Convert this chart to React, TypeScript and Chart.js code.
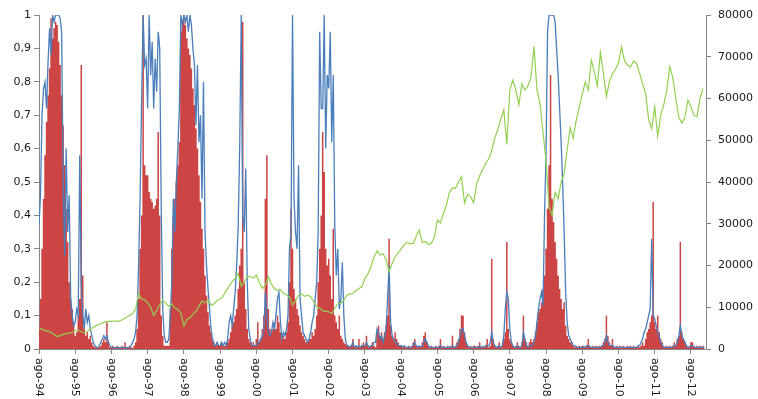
import React, { useEffect, useRef } from 'react';
import { Chart, registerables } from 'chart.js';

Chart.register(...registerables);

// x-axis year labels (one every 12 months, starting Aug 1994)
const yearLabels = ['ago-94', 'ago-95', 'ago-96', 'ago-97', 'ago-98', 'ago-99', 'ago-00', 'ago-01', 'ago-02', 'ago-03', 'ago-04', 'ago-05', 'ago-06', 'ago-07', 'ago-08', 'ago-09', 'ago-10', 'ago-11', 'ago-12'];
const leftTickLabels = ['0', '0,1', '0,2', '0,3', '0,4', '0,5', '0,6', '0,7', '0,8', '0,9', '1'];
const rightTickLabels = ['0', '10000', '20000', '30000', '40000', '50000', '60000', '70000', '80000'];

// half-month samples (left axis)
const redValues = [
  0.07,0.15,0.3,0.45,0.58,0.68,0.76,0.84,0.99,0.93,0.96,0.98,0.97,0.92,0.85,0.76,0.67,0.55,0.42,0.32,0.2,0.15,0.12,0.08,
  0.04,0.05,0.1,0.15,0.85,0.22,0.06,0.04,0.05,0.03,0.04,0.02,0.01,0.005,0.005,0.003,0.005,0.01,0.02,0.03,0.02,0.08,0.02,0.005,
  0.005,0.01,0.005,0.003,0.01,0.005,0.003,0.01,0.005,0.02,0.005,0.003,0.01,0.005,0.003,0.01,0.02,0.06,0.15,0.3,0.4,1.0,0.55,0.52,
  0.52,0.47,0.45,0.44,0.42,0.43,0.45,0.65,0.4,0.1,0.04,0.01,0.01,0.01,0.01,0.12,0.3,0.4,0.45,0.5,0.55,0.62,0.95,0.98,
  1.0,0.97,0.93,0.9,0.88,0.84,0.78,0.73,0.66,0.6,0.52,0.44,0.36,0.3,0.22,0.16,0.11,0.07,0.05,0.03,0.02,0.01,0.02,0.01,
  0.01,0.02,0.01,0.01,0.01,0.02,0.03,0.05,0.07,0.08,0.1,0.12,0.18,0.25,0.3,0.98,0.2,0.12,0.06,0.03,0.02,0.01,0.02,0.01,
  0.03,0.08,0.02,0.03,0.06,0.1,0.45,0.58,0.12,0.06,0.05,0.06,0.08,0.06,0.1,0.08,0.05,0.03,0.04,0.03,0.05,0.08,0.2,0.42,
  0.3,0.18,0.15,0.12,0.1,0.07,0.05,0.04,0.03,0.02,0.02,0.03,0.03,0.05,0.04,0.06,0.1,0.2,0.3,0.4,0.65,0.53,0.3,0.25,
  0.27,0.22,0.15,0.36,0.1,0.08,0.06,0.1,0.04,0.03,0.02,0.015,0.01,0.01,0.005,0.01,0.03,0.005,0.01,0.005,0.03,0.005,0.01,0.02,
  0.01,0.04,0.01,0.005,0.01,0.02,0.01,0.005,0.05,0.07,0.04,0.05,0.03,0.05,0.07,0.1,0.33,0.07,0.04,0.03,0.05,0.03,0.02,0.01,
  0.01,0.005,0.01,0.005,0.003,0.01,0.005,0.01,0.02,0.03,0.01,0.005,0.01,0.005,0.02,0.04,0.05,0.02,0.01,0.005,0.01,0.005,0.003,0.01,
  0.005,0.01,0.03,0.005,0.01,0.005,0.003,0.01,0.005,0.01,0.04,0.005,0.01,0.02,0.03,0.06,0.1,0.1,0.05,0.02,0.01,0.005,0.01,0.005,
  0.01,0.01,0.005,0.01,0.02,0.005,0.01,0.005,0.01,0.03,0.005,0.01,0.27,0.03,0.01,0.005,0.01,0.02,0.005,0.01,0.03,0.05,0.32,0.06,0.03,
  0.02,0.01,0.005,0.01,0.02,0.01,0.005,0.02,0.1,0.03,0.02,0.01,0.02,0.03,0.02,0.03,0.05,0.08,0.11,0.12,0.14,0.18,0.22,0.3,
  0.42,0.55,0.82,0.45,0.38,0.32,0.27,0.22,0.18,0.15,0.12,0.14,0.07,0.04,0.03,0.02,0.02,0.01,0.005,0.01,0.005,0.01,0.005,0.01,
  0.01,0.005,0.01,0.03,0.01,0.005,0.01,0.005,0.01,0.005,0.01,0.005,0.01,0.02,0.03,0.1,0.04,0.02,0.01,0.03,0.01,0.005,0.01,0.005,
  0.01,0.005,0.01,0.005,0.003,0.01,0.005,0.01,0.005,0.01,0.005,0.003,0.01,0.005,0.01,0.02,0.01,0.03,0.05,0.06,0.08,0.1,0.44,0.08,
  0.06,0.1,0.05,0.03,0.02,0.01,0.005,0.01,0.005,0.01,0.005,0.01,0.02,0.01,0.03,0.04,0.32,0.05,0.03,0.02,0.01,0.005,0.01,0.02,
  0.02,0.01,0.005,0.01,0.005,0.01,0.005,0.01,0.005,
];

const blueValues = [
  0.37,0.46,0.7,0.78,0.8,0.72,0.86,0.96,0.88,1.0,0.98,1.0,1.0,1.0,0.99,0.95,0.5,0.28,0.6,0.35,0.46,0.15,0.1,0.07,
  0.08,0.12,0.1,0.58,0.2,0.1,0.06,0.12,0.08,0.1,0.06,0.04,0.02,0.01,0.005,0.005,0.01,0.02,0.03,0.04,0.03,0.04,0.02,0.01,
  0.005,0.005,0.003,0.005,0.004,0.003,0.005,0.004,0.005,0.003,0.005,0.004,0.005,0.01,0.02,0.03,0.05,0.1,0.25,0.45,0.75,1.0,0.85,0.87,
  0.72,1.0,0.82,0.92,0.72,0.87,0.77,0.95,0.9,0.42,0.12,0.04,0.02,0.02,0.03,0.1,0.2,0.45,0.35,0.5,0.6,0.72,1.0,0.97,
  1.0,0.98,1.0,0.95,1.0,0.97,0.9,0.85,0.67,0.85,0.62,0.7,0.45,0.8,0.35,0.25,0.18,0.12,0.06,0.03,0.01,0.01,0.02,0.01,
  0.01,0.02,0.01,0.02,0.01,0.03,0.08,0.1,0.07,0.12,0.17,0.25,0.37,0.6,1.0,0.4,0.35,0.54,0.2,0.06,0.03,0.01,0.01,0.01,
  0.01,0.02,0.02,0.03,0.04,0.05,0.17,0.1,0.05,0.04,0.05,0.08,0.06,0.1,0.15,0.17,0.08,0.03,0.05,0.04,0.06,0.1,0.3,0.35,
  1.0,0.45,0.35,0.3,0.55,0.15,0.1,0.05,0.04,0.03,0.02,0.03,0.05,0.08,0.1,0.15,0.2,0.35,0.95,0.72,0.72,1.0,0.6,0.82,
  0.78,0.95,0.62,0.82,0.37,0.22,0.3,0.12,0.15,0.26,0.1,0.03,0.01,0.01,0.005,0.01,0.02,0.005,0.01,0.005,0.01,0.005,0.01,0.01,
  0.01,0.02,0.01,0.005,0.01,0.01,0.02,0.02,0.06,0.05,0.03,0.04,0.02,0.04,0.06,0.15,0.25,0.08,0.04,0.03,0.02,0.02,0.01,0.01,
  0.01,0.005,0.01,0.005,0.005,0.005,0.005,0.005,0.01,0.02,0.01,0.005,0.01,0.005,0.01,0.02,0.03,0.02,0.01,0.005,0.005,0.005,0.005,0.005,
  0.005,0.005,0.01,0.005,0.005,0.005,0.005,0.005,0.005,0.005,0.01,0.005,0.005,0.01,0.02,0.04,0.06,0.06,0.04,0.02,0.01,0.005,0.005,0.005,
  0.005,0.005,0.005,0.005,0.01,0.005,0.005,0.005,0.01,0.01,0.01,0.02,0.05,0.02,0.01,0.005,0.005,0.01,0.005,0.01,0.04,0.12,0.17,0.15,0.06,
  0.02,0.01,0.005,0.005,0.01,0.005,0.005,0.01,0.05,0.03,0.01,0.005,0.01,0.01,0.01,0.02,0.04,0.08,0.12,0.15,0.17,0.13,0.4,0.58,
  0.95,1.0,1.0,1.0,1.0,0.98,0.9,0.82,0.72,0.62,0.5,0.35,0.17,0.08,0.04,0.03,0.02,0.01,0.01,0.005,0.005,0.005,0.005,0.005,
  0.005,0.005,0.01,0.01,0.005,0.005,0.005,0.005,0.005,0.005,0.005,0.005,0.01,0.01,0.02,0.04,0.02,0.01,0.01,0.01,0.005,0.005,0.005,0.005,
  0.005,0.005,0.005,0.005,0.005,0.005,0.005,0.005,0.005,0.005,0.005,0.005,0.01,0.01,0.02,0.03,0.05,0.06,0.08,0.1,0.12,0.33,0.1,0.09,
  0.07,0.05,0.04,0.02,0.01,0.005,0.005,0.005,0.005,0.005,0.005,0.005,0.01,0.01,0.02,0.04,0.07,0.04,0.03,0.02,0.01,0.005,0.005,0.01,
  0.01,0.005,0.005,0.005,0.005,0.005,0.005,0.005,0.005,
];

// monthly samples (right axis)
const greenValues = [
  5000,4700,4400,4300,4000,3500,3000,3200,3500,3700,3800,4000,
  4300,4600,4200,3900,4200,4800,5200,5600,6000,6200,6500,6600,
  6600,6700,6600,6800,7200,7600,8000,8500,9500,13300,12000,11800,
  11000,10000,8000,9300,10600,11700,11000,10200,10800,9800,9500,8600,
  5500,7000,7500,8300,9000,10200,11500,11000,11800,10500,10800,11600,
  12000,12600,14000,15000,16100,17000,18100,15000,16000,17400,17300,17000,
  17700,16000,14500,15200,17300,15500,14500,14000,14200,13300,13000,12500,
  10500,11600,12900,13200,12600,12900,12500,11300,10100,9800,9200,9000,
  8900,8500,9700,10900,10900,11700,12900,13200,13300,14000,14500,14900,
  16900,18000,19700,22000,23500,22500,22800,21500,18500,20500,22100,23000,
  24000,25000,25600,25200,25300,27000,28500,25500,25800,25000,25300,26800,
  30900,30200,32500,34500,37500,38600,38500,40000,41300,35000,37000,36500,
  35000,39500,41500,43000,44500,45500,47500,50500,52500,55000,57300,49000,
  62000,64400,62000,58500,63500,62000,63000,65000,72500,62000,58800,52000,
  45000,34000,32000,37500,36000,40000,42000,47700,53000,50500,54800,58000,
  61000,64000,62000,69200,66500,63000,71000,66000,60500,64000,66000,67000,
  68500,72400,69000,68000,67500,69000,68400,66000,63500,61200,55000,52800,
  58000,51000,56000,58500,62000,67600,65000,60000,55500,54100,55500,59600,
  58000,56000,55600,60000,62400,
];

const HALF_MONTH = 0.5;
const MONTHS_PER_YEAR = 12;
const FONT = 'DejaVu Sans';
const AXIS_COLOR = '#868686';

const xLabelPlugin = {
  id: 'xLabels',
  afterDraw(chart: any) {
    const xs = chart.scales.x;
    const ctx = chart.ctx;
    ctx.save();
    ctx.font = `11px "${FONT}"`;
    ctx.fillStyle = '#1a1a1a';
    ctx.textAlign = 'left';
    ctx.textBaseline = 'middle';
    yearLabels.forEach((lab, i) => {
      const px = xs.getPixelForValue(i * MONTHS_PER_YEAR);
      ctx.save();
      ctx.translate(px, xs.top + 9);
      ctx.rotate(Math.PI / 2);
      ctx.fillText(lab, 0, 0);
      ctx.restore();
    });
    ctx.restore();
  },
};

export default function App() {
  const ref = useRef<HTMLCanvasElement | null>(null);
  useEffect(() => {
    document.body.style.margin = '0';
    if (!ref.current) return;
    const chart = new Chart(ref.current, {
      type: 'line',
      data: {
        datasets: [
          {
            type: 'line',
            data: greenValues.map((v, i) => ({ x: i, y: v })),
            borderColor: '#92D050',
            borderWidth: 1.2,
            pointRadius: 0,
            tension: 0,
            fill: false,
            xAxisID: 'x',
            yAxisID: 'y2',
            order: 1,
          } as any,
          {
            type: 'line',
            data: blueValues.map((v, i) => ({ x: i * HALF_MONTH, y: v })),
            borderColor: '#4A7EBB',
            borderWidth: 1.3,
            pointRadius: 0,
            tension: 0,
            fill: false,
            xAxisID: 'x',
            yAxisID: 'y',
            order: 2,
          } as any,
          {
            type: 'line',
            data: redValues.map((v, i) => ({ x: i * HALF_MONTH, y: v })),
            backgroundColor: '#CC4444',
            borderColor: 'rgba(0,0,0,0)',
            borderWidth: 0,
            stepped: 'middle',
            fill: 'origin',
            pointRadius: 0,
            xAxisID: 'x',
            yAxisID: 'y',
            order: 3,
          } as any,
        ],
      },
      options: {
        animation: false,
        responsive: false,
        maintainAspectRatio: false,
        layout: { padding: { top: 15, left: 0, right: 0, bottom: 0 } },
        plugins: { legend: { display: false }, tooltip: { enabled: false }, title: { display: false } },
        scales: {
          x: {
            type: 'linear',
            min: 0,
            max: 221,
            offset: false,
            border: { color: AXIS_COLOR, width: 1 },
            grid: { drawOnChartArea: false, drawTicks: true, tickLength: 5, color: AXIS_COLOR },
            ticks: { display: false },
            afterBuildTicks: (scale: any) => {
              scale.ticks = yearLabels.map((_, i) => ({ value: i * MONTHS_PER_YEAR }));
            },
            afterFit: (scale: any) => { scale.height = 50; },
          },
          y: {
            type: 'linear',
            position: 'left',
            min: 0,
            max: 1,
            border: { color: AXIS_COLOR, width: 1 },
            grid: { drawOnChartArea: false, tickLength: 5, color: AXIS_COLOR },
            ticks: {
              stepSize: 0.1,
              padding: 3,
              color: '#1a1a1a',
              font: { family: FONT, size: 11 },
              callback: (_v: any, i: number) => leftTickLabels[i],
            },
            afterFit: (scale: any) => { scale.width = 39; },
          },
          y2: {
            type: 'linear',
            position: 'right',
            min: 0,
            max: 80000,
            border: { color: AXIS_COLOR, width: 1 },
            grid: { drawOnChartArea: false, tickLength: 5, color: AXIS_COLOR },
            ticks: {
              stepSize: 10000,
              padding: 7,
              color: '#1a1a1a',
              font: { family: FONT, size: 11 },
              callback: (_v: any, i: number) => rightTickLabels[i],
            },
            afterFit: (scale: any) => { scale.width = 52; },
          },
        },
      } as any,
      plugins: [xLabelPlugin],
    });
    return () => chart.destroy();
  }, []);
  return (
    <div style={{ width: 758, height: 399 }}>
      <canvas ref={ref} width={758} height={399} />
    </div>
  );
}
